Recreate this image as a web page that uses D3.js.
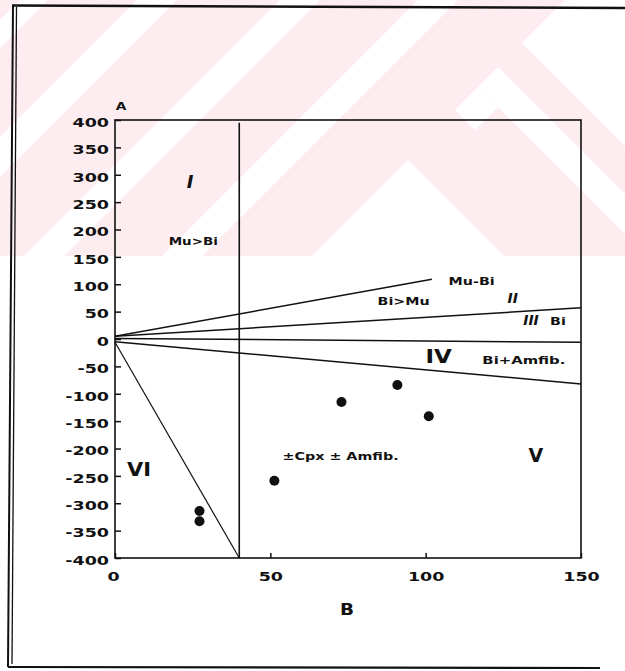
<!DOCTYPE html>
<html>
<head>
<meta charset="utf-8">
<script src="https://cdn.jsdelivr.net/npm/d3@7"></script>
<style>
  html, body { margin: 0; padding: 0; background: #fff; }
  svg { display: block; }
  text { font-family: "DejaVu Sans", sans-serif; font-weight: bold; fill: #111; }
</style>
</head>
<body>
<svg id="chart" width="625" height="671"></svg>
<script>
// ---- A–B diagram (Debon & Le Fort type) ----
const xTicks = [0, 50, 100, 150];
const yTicks = [400, 350, 300, 250, 200, 150, 100, 50, 0, -50, -100, -150, -200, -250, -300, -350, -400];

// sector boundary lines, each as [B, A] end points
const lineMuBi   = [[0, 5], [102, 109]];
const lineBi     = [[0, 5], [150, 57]];
const lineZero   = [[0, 1], [150, -6]];
const lineAmfib  = [[0, -5], [150, -82]];
const lineSteep  = [[0, -6], [40, -400]];
const dividerB   = 40;

// analysed samples
const sampleB = [27.2, 27.2, 51.3, 72.9, 90.9, 101];
const sampleA = [-314, -333, -259, -115, -84, -141];

// sector names and mineral assemblages, anchored in B–A units
const sectorText = ["I", "Mu>Bi", "Mu-Bi", "Bi>Mu", "II", "III", "Bi", "IV", "Bi+Amfib.", "±Cpx ± Amfib.", "V", "VI"];
const sectorB    = [24.2, 25.2, 114.8, 92.9, 128, 133.9, 142.6, 104.2, 131.6, 72.6, 135.5, 7.7];
const sectorA    = [287, 177, 106, 69.4, 75, 34.7, 32.9, -31, -38.4, -213.7, -212, -237];

const svg = d3.select("#chart");

// ---- faint background stripes ----
const wm = svg.append("g");
svg.append("defs").append("clipPath").attr("id", "wmclip")
  .append("rect").attr("x", 0).attr("y", 0).attr("width", 625).attr("height", 256);
wm.attr("clip-path", "url(#wmclip)");
wm.append("rect").attr("x", 0).attr("y", 0).attr("width", 625).attr("height", 256).attr("fill", "#fdedf0");
const poly = pts => wm.append("polygon").attr("points", pts.map(p => p.join(",")).join(" ")).attr("fill", "#fff");
// diagonal bands rising to the right (x + y constant)
[[20, 48], [137, 177], [280, 320], [418, 458]].forEach(([c1, c2]) =>
  poly([[c1 + 10, -10], [c2 + 10, -10], [c2 - 280, 280], [c1 - 280, 280]]));
// chevrons
poly([[408, 160], [158, 410], [658, 410]]);
poly([[478, 87], [498, 67], [731, 300], [691, 300]]);
poly([[455, 110], [478, 87], [498, 107], [475, 130]]);
poly([[575, -10], [720, -10], [720, 241], [522, 43]]);

// ---- outer frame ----
const frame = svg.append("g").attr("fill", "none").attr("stroke", "#111");
frame.append("path").attr("d", "M13,5 L8,667").attr("stroke-width", 2);
frame.append("path").attr("d", "M16.5,7 L12,664").attr("stroke-width", 1.3);
frame.append("path").attr("d", "M12,5.5 L625,8").attr("stroke-width", 2.6);
frame.append("path").attr("d", "M8,667 L600,668").attr("stroke-width", 2.2);

// ---- scales ----
const x = d3.scaleLinear().domain([0, 150]).range([115, 581]);
const y = d3.scaleLinear().domain([-400, 400]).range([558, 120]);

// plot frame
svg.append("rect")
  .attr("x", x(0)).attr("y", y(400))
  .attr("width", x(150) - x(0)).attr("height", y(-400) - y(400))
  .attr("fill", "none").attr("stroke", "#111").attr("stroke-width", 1.6);

// ---- axes (inward ticks, wide bold labels) ----
const widen = 1.4;
const fmt = d => d < 0 ? "-" + Math.abs(d) : String(d);

const yAxis = svg.append("g").attr("transform", `translate(${x(0)},0)`)
  .call(d3.axisLeft(y).tickValues(yTicks).tickFormat(fmt).tickSizeInner(-6).tickSizeOuter(0).tickPadding(6));
yAxis.select(".domain").remove();
yAxis.selectAll(".tick line").attr("stroke", "#111").attr("stroke-width", 1.5);
yAxis.selectAll(".tick text")
  .attr("font-family", "DejaVu Sans").attr("font-size", 12.5).attr("font-weight", "bold").attr("fill", "#111")
  .attr("x", -6 / widen).attr("y", 0).attr("dy", "0.5em")
  .attr("transform", `scale(${widen},1)`);

const xAxis = svg.append("g").attr("transform", `translate(0,${y(-400)})`)
  .call(d3.axisBottom(x).tickValues(xTicks).tickFormat(fmt).tickSizeInner(-5).tickSizeOuter(0).tickPadding(14));
xAxis.select(".domain").remove();
xAxis.selectAll(".tick line").attr("stroke", "#111").attr("stroke-width", 1.5);
xAxis.selectAll(".tick text")
  .attr("font-family", "DejaVu Sans").attr("font-size", 12.5).attr("font-weight", "bold").attr("fill", "#111")
  .attr("x", 0).attr("y", 14).attr("dy", "0.72em").attr("text-anchor", "middle")
  .attr("transform", `scale(${widen},1)`);
xAxis.selectAll(".tick text").filter(d => d === 0).attr("x", -2 / widen);

// axis titles
svg.append("text").attr("transform", `translate(${x(0) + 6},${y(400) - 10}) scale(1.25,1)`)
  .attr("text-anchor", "middle").attr("font-size", 11).text("A");
svg.append("text").attr("transform", `translate(${x(75) - 1},${y(-400) + 57}) scale(1.15,1)`)
  .attr("text-anchor", "middle").attr("font-size", 16).text("B");

// ---- boundary lines ----
const line = d3.line().x(d => x(d[0])).y(d => y(d[1]));
const lines = svg.append("g").attr("fill", "none").attr("stroke", "#111").attr("stroke-width", 1.5);
[lineMuBi, lineBi, lineZero, lineAmfib].forEach(l => lines.append("path").attr("d", line(l)));
lines.append("path").attr("d", line(lineSteep)).attr("stroke-width", 1.2);
lines.append("path").attr("d", line([[dividerB, 395], [dividerB, -400]])).attr("stroke-width", 1.6);

// ---- samples ----
svg.append("g").selectAll("circle")
  .data(sampleB.map((b, i) => [b, sampleA[i]]))
  .join("circle")
  .attr("cx", d => x(d[0])).attr("cy", d => y(d[1])).attr("r", 5).attr("fill", "#111");

// ---- sector labels ----
const labelStyle = {
  "I":            { size: 18, sx: 1.0, italic: true },
  "Mu>Bi":        { size: 10, sx: 1.35 },
  "Mu-Bi":        { size: 11, sx: 1.3 },
  "Bi>Mu":        { size: 11, sx: 1.3 },
  "II":           { size: 14, sx: 1.0, italic: true },
  "III":          { size: 14, sx: 1.0, italic: true },
  "Bi":           { size: 11, sx: 1.3 },
  "IV":           { size: 20, sx: 1.15, weight: "normal" },
  "Bi+Amfib.":    { size: 11, sx: 1.35 },
  "±Cpx ± Amfib.":{ size: 11, sx: 1.3 },
  "V":            { size: 19, sx: 1.0 },
  "VI":           { size: 20, sx: 1.05 }
};
const labels = svg.append("g");
sectorText.forEach((t, i) => {
  const st = labelStyle[t];
  labels.append("text")
    .attr("transform", `translate(${x(sectorB[i])},${y(sectorA[i])}) scale(${st.sx},1)`)
    .attr("text-anchor", "middle").attr("dominant-baseline", "central")
    .attr("font-size", st.size)
    .attr("font-style", st.italic ? "italic" : "normal")
    .attr("font-weight", st.weight || "bold")
    .text(t);
});
</script>
</body>
</html>
